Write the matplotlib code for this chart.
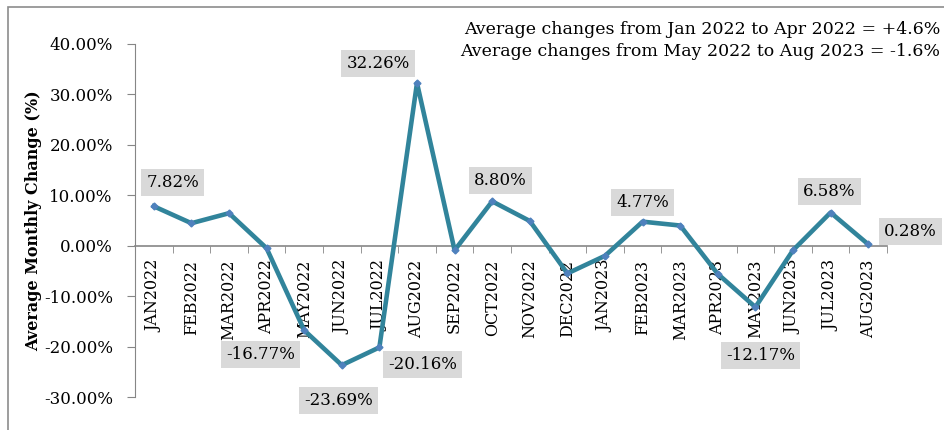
import numpy as np
import matplotlib.pyplot as plt
from matplotlib.patches import Rectangle
from matplotlib.ticker import FuncFormatter

months = ['JAN2022', 'FEB2022', 'MAR2022', 'APR2022', 'MAY2022', 'JUN2022', 'JUL2022',
          'AUG2022', 'SEP2022', 'OCT2022', 'NOV2022', 'DEC2022', 'JAN2023', 'FEB2023',
          'MAR2023', 'APR2023', 'MAY2023', 'JUN2023', 'JUL2023', 'AUG2023']
change = [7.82, 4.46, 6.45, -0.5, -16.77, -23.69, -20.16, 32.26, -0.9, 8.80,
          4.9, -5.5, -2.0, 4.77, 4.0, -5.6, -12.17, -0.9, 6.58, 0.28]

# which points get a value box, and where (offset in pixels)
labelled = [0, 4, 5, 6, 7, 9, 13, 16, 18, 19]
offsets = {0: (19, 24), 4: (-44, -24), 5: (-3, -35), 6: (43, -17), 7: (-39, 20),
           9: (8, 21), 13: (0, 19), 16: (5, -48), 18: (-1, 21), 19: (42, 13)}

notes = ['Average changes from Jan 2022 to Apr 2022 = +4.6%',
         'Average changes from May 2022 to Aug 2023 = -1.6%']

plt.rcParams['font.family'] = ['DejaVu Serif']

fig = plt.figure(figsize=(9.44, 4.3), dpi=100)
fig.patches.append(Rectangle((8/944, -0.1), 1.0, (430-7)/430 + 0.1, transform=fig.transFigure,
                             fill=False, edgecolor='#8c8c8c', linewidth=1.2))

ax = fig.add_axes([135/944, 33/430, 752/944, 353/430])
x = np.arange(len(months))
ax.plot(x, change, color='#31849B', linewidth=3.3, marker='D', markersize=3.5,
        markerfacecolor='#4F81BD', markeredgecolor='#4F81BD', zorder=3)

ax.set_xlim(-0.5, len(months) - 0.5)
ax.set_ylim(-30, 40)
ax.set_yticks(np.arange(-30, 41, 10))
ax.yaxis.set_major_formatter(FuncFormatter(lambda v, p: '%.2f%%' % v))

for s in ['top', 'right']:
    ax.spines[s].set_visible(False)
ax.spines['left'].set_color('#868686')
ax.spines['bottom'].set_position(('data', 0))
ax.spines['bottom'].set_color('#868686')
ax.spines['bottom'].set_linewidth(1.2)

ax.set_xticks(x)
ax.set_xticklabels(months, rotation=90, fontsize=11.5, va='top')
ax.set_xticks(np.arange(-0.5, len(months), 1), minor=True)
ax.tick_params(axis='x', which='major', length=0, pad=10)
ax.tick_params(axis='x', which='minor', length=5, color='#868686', direction='out')
ax.tick_params(axis='y', length=6, color='#868686', labelsize=12, pad=10)

ax.set_ylabel('Average Monthly Change (%)', fontsize=11.5, fontweight='bold', labelpad=1)

for i in labelled:
    ax.annotate('%.2f%%' % change[i], (x[i], change[i]), xytext=offsets[i],
                textcoords='offset pixels', ha='center', va='center', fontsize=12,
                bbox=dict(boxstyle='square,pad=0.3', facecolor='#d9d9d9', edgecolor='none'),
                annotation_clip=False, zorder=4)

fig.text(940/944, 1 - 29/430, notes[0], ha='right', va='center', fontsize=12.5)
fig.text(940/944, 1 - 52/430, notes[1], ha='right', va='center', fontsize=12.5)

fig.savefig('out.png', dpi=100)
